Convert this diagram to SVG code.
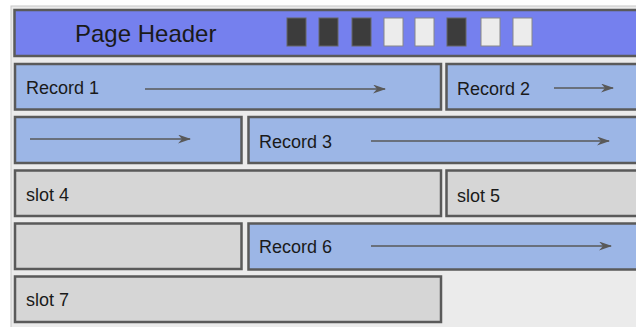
<svg xmlns="http://www.w3.org/2000/svg" width="636" height="327" viewBox="0 0 636 327">
<defs>
<marker id="ah" markerUnits="userSpaceOnUse" markerWidth="14" markerHeight="10" refX="12" refY="4.5" orient="auto">
<path d="M0,0 L13,4.5 L0,9 L4,4.5 z" fill="#595959"/>
</marker>
</defs>
<style>
.box{stroke:#5a5a5a;stroke-width:2.5}
.rec{fill:#9cb6e6}
.slot{fill:#d6d6d6}
.hdr{fill:#7580ee}
.sqd{fill:#3c3c3c;stroke:#666;stroke-width:1}
.sql{fill:#ececec;stroke:#888;stroke-width:1}
text{font-family:"Liberation Sans",Arial,sans-serif;fill:#1a1a1a}
.lbl{font-size:18px}
.conn line{stroke:#595959;stroke-width:1.6;marker-end:url(#ah)}
</style>
<rect x="0" y="0" width="636" height="327" fill="#ffffff"/>
<rect x="11" y="6" width="630" height="330" fill="#ebebeb" stroke="#c8c8c8" stroke-width="1"/>
<g id="header">
<rect class="box hdr" x="14.5" y="10" width="630" height="46"/>
<text x="75" y="42" font-size="24">Page Header</text>
<rect class="sqd" x="287" y="18" width="19" height="28"/>
<rect class="sqd" x="319" y="18" width="19" height="28"/>
<rect class="sqd" x="352" y="18" width="19" height="28"/>
<rect class="sql" x="384" y="18" width="19" height="28"/>
<rect class="sql" x="415" y="18" width="19" height="28"/>
<rect class="sqd" x="447" y="18" width="19" height="28"/>
<rect class="sql" x="481" y="18" width="19" height="28"/>
<rect class="sql" x="513" y="18" width="19" height="28"/>
</g>
<g id="record1">
<rect class="box rec" x="15" y="64" width="426" height="45.5"/>
<text class="lbl" x="26" y="94">Record 1</text>
</g>
<g id="record2">
<rect class="box rec" x="446.5" y="64" width="200" height="45.5"/>
<text class="lbl" x="457" y="95">Record 2</text>
</g>
<g id="record1-cont">
<rect class="box rec" x="15" y="117" width="226.5" height="46"/>
</g>
<g id="record3">
<rect class="box rec" x="248.5" y="117" width="400" height="46"/>
<text class="lbl" x="259" y="148">Record 3</text>
</g>
<g id="slot4">
<rect class="box slot" x="15" y="170.5" width="426" height="45.5"/>
<text class="lbl" x="26" y="201">slot 4</text>
</g>
<g id="slot5">
<rect class="box slot" x="446.5" y="170.5" width="200" height="45.5"/>
<text class="lbl" x="457" y="202">slot 5</text>
</g>
<g id="empty">
<rect class="box slot" x="15" y="223.5" width="226.5" height="45.5"/>
</g>
<g id="record6">
<rect class="box rec" x="248.5" y="223.5" width="400" height="46"/>
<text class="lbl" x="259" y="253">Record 6</text>
</g>
<g id="slot7">
<rect class="box slot" x="15" y="276.5" width="426" height="45.5"/>
<text class="lbl" x="26" y="306">slot 7</text>
</g>
<g class="conn" id="connectors">
<line x1="145" y1="89" x2="385" y2="89"/>
<line x1="554" y1="88" x2="613" y2="88"/>
<line x1="30" y1="139" x2="190" y2="139"/>
<line x1="371" y1="141" x2="609" y2="141"/>
<line x1="371" y1="246" x2="611" y2="246"/>
</g>
</svg>
